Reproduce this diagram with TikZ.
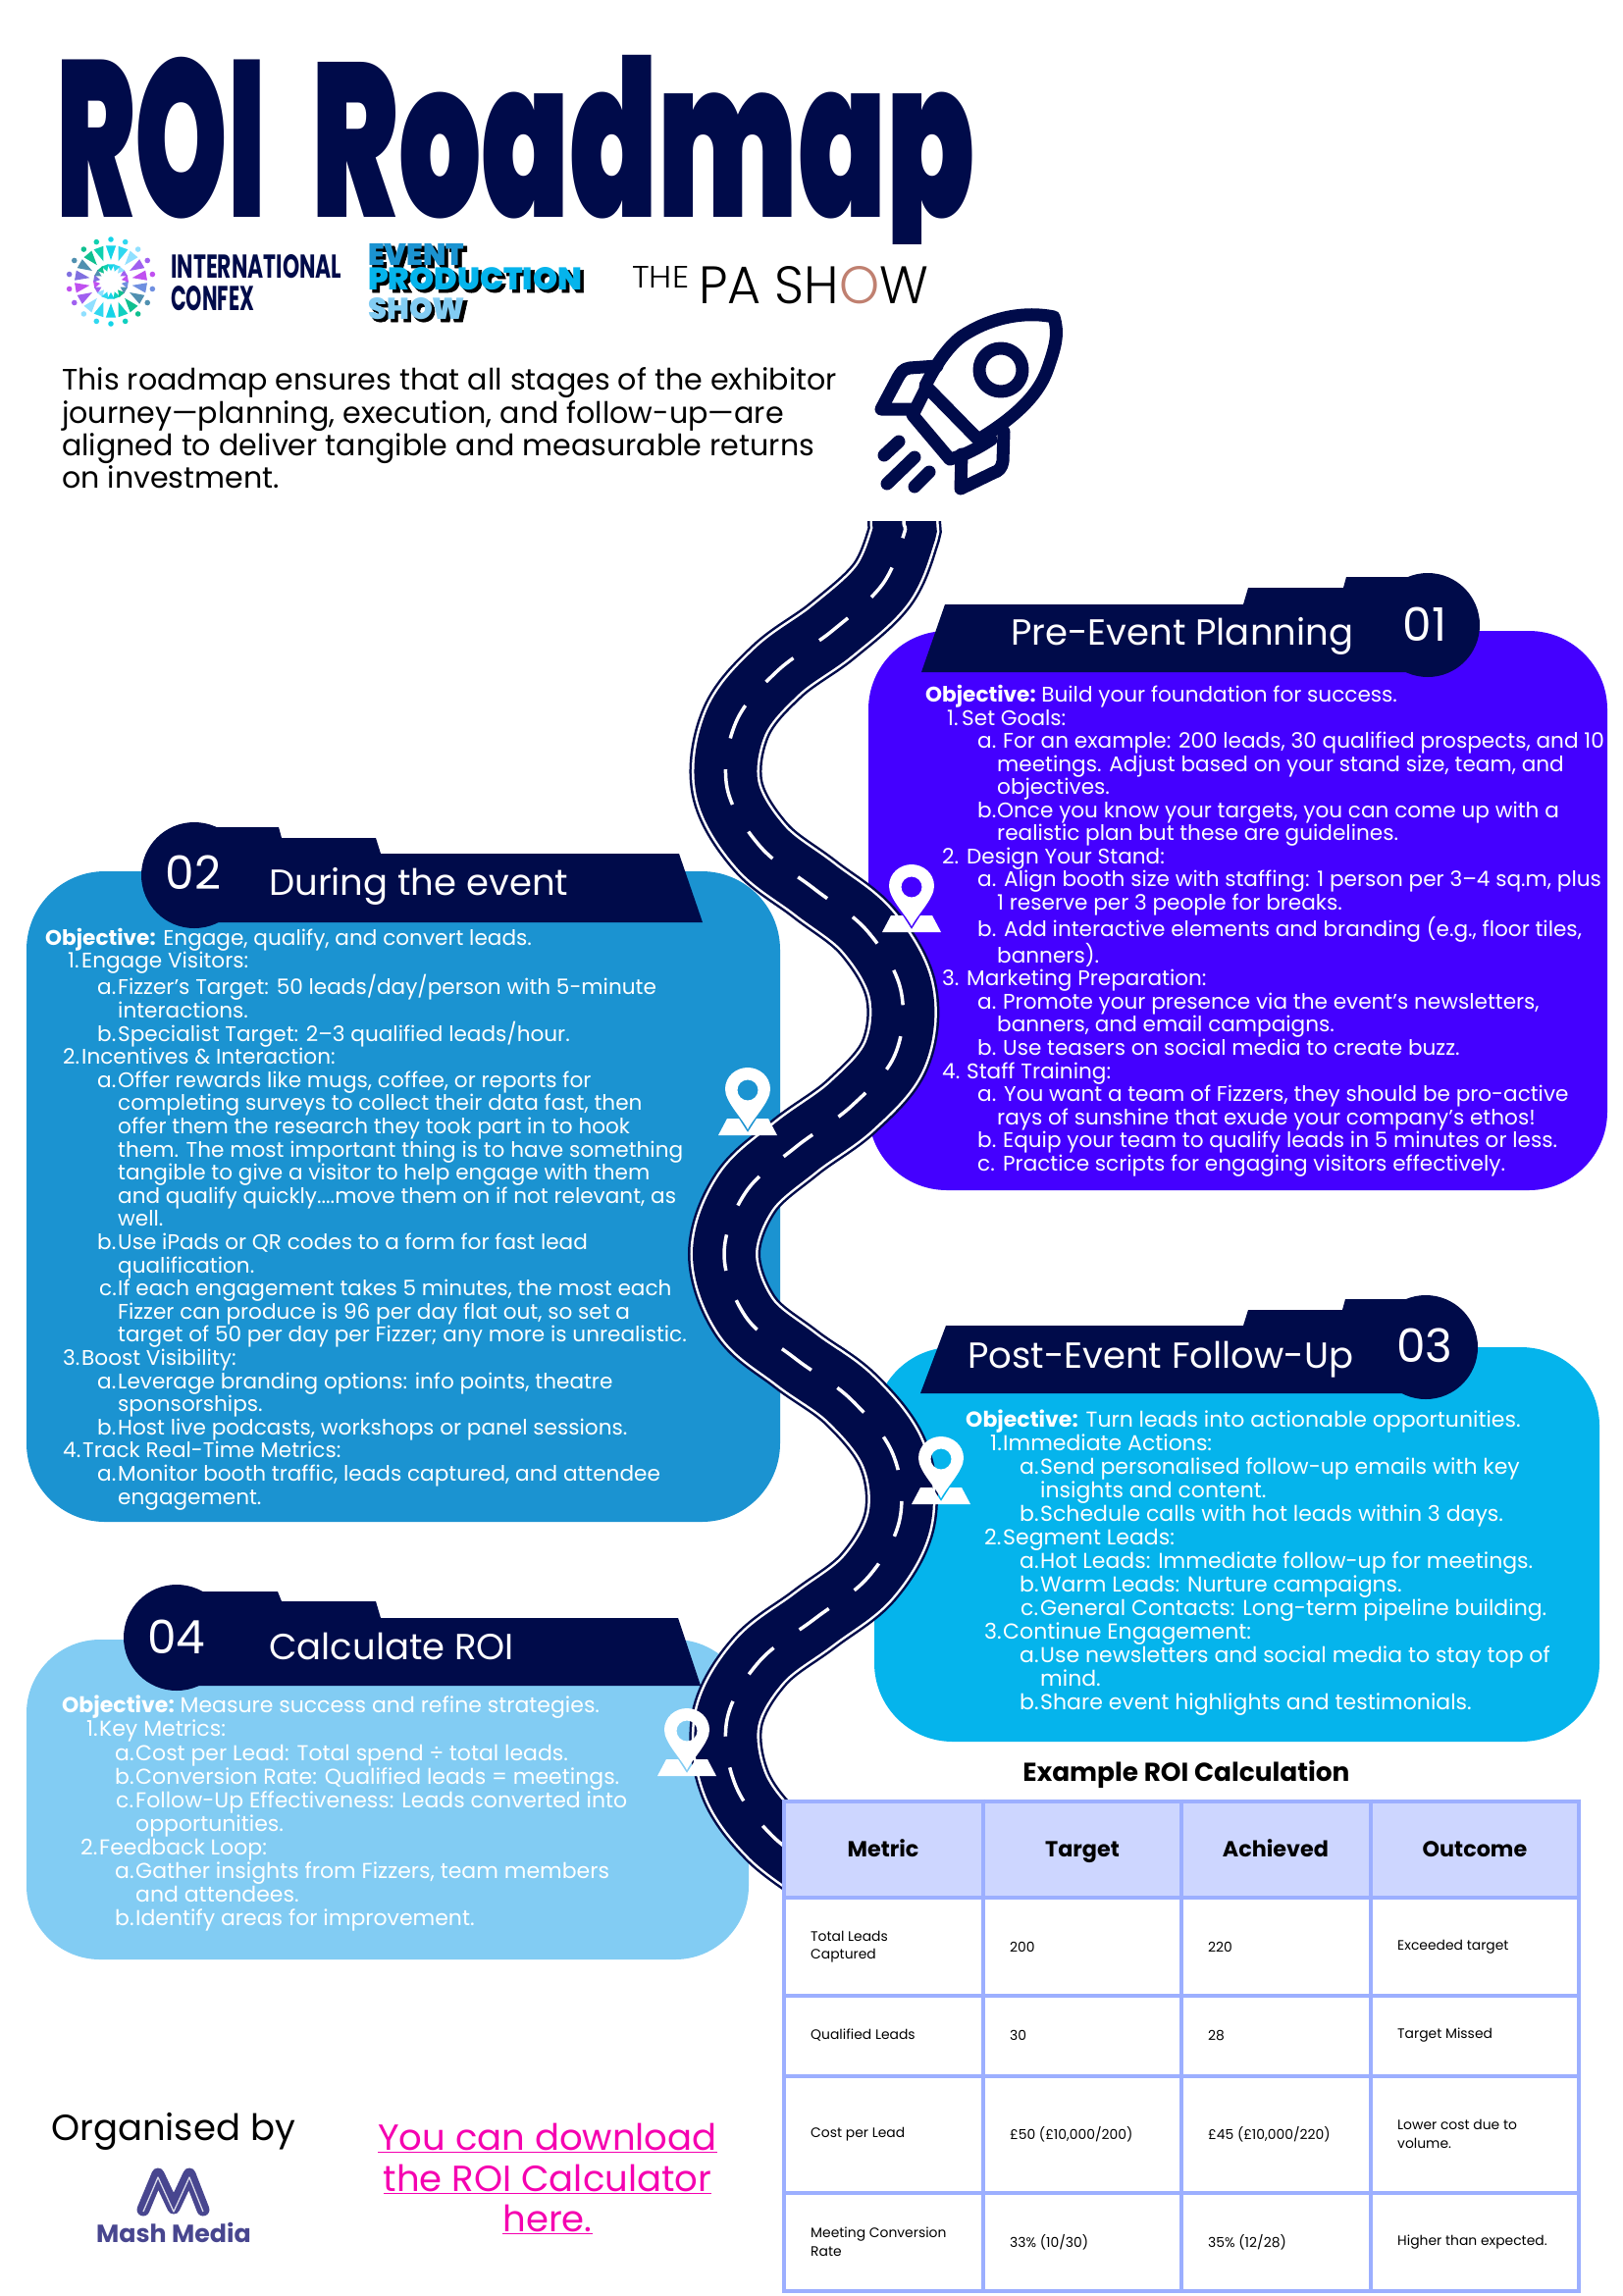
\documentclass[tikz,border=0pt]{standalone}
\usepackage{fontspec}
\usepackage{tikz}
\setmainfont{Poppins}
\newfontfamily\blackfont{Poppins Black}
\newfontfamily\shadowfont{Poppins Black}[FakeBold=2]
\newfontfamily\thinfont{Poppins Light}
\definecolor{roadnavy}{HTML}{000B4A}
\definecolor{planblue}{HTML}{4400FF}
\definecolor{duringblue}{HTML}{1B93D1}
\definecolor{postblue}{HTML}{05B4EC}
\definecolor{calcblue}{HTML}{82CCF3}
\definecolor{tableline}{HTML}{9CAFFF}
\definecolor{tablehead}{HTML}{CDD6FF}
\definecolor{linkpink}{HTML}{F500B0}
\definecolor{mashviolet}{HTML}{48468F}

\def\roadpath{plot[smooth,tension=0.6] coordinates {(921,490) (921,531) (921,545) (899,596) (848,643) (792,684) (750,736) (741,803) (775,863) (830,906) (884,949) (918,1009) (912,1075) (868,1127) (811,1169) (760,1215) (738,1278) (760,1342) (811,1385) (867,1426) (910,1482) (917,1548) (885,1607) (830,1650) (774,1693) (741,1752) (749,1818) (787,1871) (840,1910)}}

\newcommand{\bodyrow}[4]{\hspace*{#1pt}\makebox[\dimexpr#2pt-#1pt\relax][l]{#3}#4}
\newcommand{\pinmark}[2]{%
	\fill[white,even odd rule,shift={(#1,#2)}] (0,0) .. controls (-6,-12) and (-23,-28) .. (-23,-41) .. controls (-23,-54) and (-12,-63) .. (0,-63) .. controls (12,-63) and (23,-54) .. (23,-41) .. controls (23,-28) and (6,-12) .. (0,0) -- cycle (0,-40) circle (10.5);
	\fill[white,shift={(#1,#2)}] (-30,6) -- (-21,-11) -- (-9,-11) -- (0,3) -- (9,-11) -- (21,-11) -- (30,6) -- cycle;
}

\tikzset{
	bodytext/.style n args={2}{anchor=north west,align=left,text=white,font=\fontsize{#1}{#2}\selectfont},
	bannertext/.style={anchor=base west,text=white,font=\fontsize{37}{40}\selectfont},
	bannernum/.style={text=white,font=\fontsize{47}{50}\selectfont},
	cellhead/.style={anchor=base,font=\fontsize{22.3}{26}\selectfont\bfseries},
	celltext/.style={anchor=west,align=left,font=\fontsize{13.9}{18.6}\selectfont},
	linktext/.style={anchor=base,text=linkpink,font=\fontsize{37}{42}\selectfont},
	every node/.style={inner sep=0pt}
}

\begin{document}
\begin{tikzpicture}[x=1pt,y=-1pt]
	\useasboundingbox (0,0) rectangle (1654,2340);
	\fill[white] (0,0) rectangle (1654,2340);

	%title and logos
	\begin{scope}
		\clip (0,0) rectangle (1654,248);
		\node[anchor=base west,text=roadnavy] (titleroi) at (57,221) {\resizebox{214pt}{163pt}{\blackfont ROI}};
		\node[anchor=base west,text=roadnavy] (titleroad) at (317,221) {\resizebox{676pt}{165pt}{\blackfont Roadmap}};
	\end{scope}
	\foreach \ang/\petal in {90/14D4E8,110/10D0B0,130/10C090,150/5090B0,170/8070E0,190/C050F0,210/A060F0,230/90E0FF,250/30D8F0,270/14D4E8,290/10D0C0,310/10C090,330/5090B0,350/6F8FE0,10/C050F0,30/A060F0,50/90E0FF,70/30D8F0}{
		\definecolor{petal}{HTML}{\petal}
		\begin{scope}[shift={(113,287)}]
			\fill[petal] (-\ang:43) circle (2.8);
			\fill[petal] (-\ang+8:37) -- (-\ang-8:37) -- (-\ang:22) -- cycle;
			\fill[petal] (-\ang+12:18) -- (-\ang-12:18) -- (-\ang:11) -- cycle;
		\end{scope}
	}
	\node[anchor=base west,text=roadnavy] (confexa) at (174,283) {\resizebox{174pt}{24pt}{\bfseries INTERNATIONAL}};
	\node[anchor=base west,text=roadnavy] (confexb) at (174,316) {\resizebox{85pt}{25pt}{\bfseries CONFEX}};
	\node[anchor=base west,text=black] (epsashadow) at (378,273) {\resizebox{98pt}{22pt}{\shadowfont EVENT}};
	\node[anchor=base west,text=black] (epsbshadow) at (378,298) {\resizebox{218pt}{23pt}{\shadowfont PRODUCTION}};
	\node[anchor=base west,text=black] (epscshadow) at (378,328) {\resizebox{99pt}{22pt}{\shadowfont SHOW}};
	\node[anchor=base west,text=duringblue] (epsa) at (375,270) {\resizebox{98pt}{22pt}{\blackfont EVENT}};
	\node[anchor=base west,text=postblue] (epsb) at (375,295) {\resizebox{218pt}{23pt}{\blackfont PRODUCTION}};
	\node[anchor=base west,text=calcblue] (epsc) at (375,325) {\resizebox{99pt}{22pt}{\blackfont SHOW}};
	\node[anchor=base west] (pathe) at (644,293) {\resizebox{58pt}{22pt}{\thinfont THE}};
	\node[anchor=base west] (papa) at (712,309) {\resizebox{234pt}{38pt}{\thinfont PA SH\textcolor[HTML]{C08070}{O}W}};

	%intro text
	\node[anchor=north west,align=left,font=\fontsize{30.1}{33.4}\selectfont] (intro) at (63,374.5) {This roadmap ensures that all stages of the exhibitor\\journey—planning, execution, and follow-up—are\\aligned to deliver tangible and measurable returns\\on investment.};

	%rocket
	\begin{scope}[draw=roadnavy,line width=13,line join=round,line cap=round]
		\draw (1074,323) .. controls (1040,316) and (1005,326) .. (980,343) .. controls (965,354) and (952,375) .. (943,393) -- (997,448) .. controls (1030,428) and (1058,405) .. (1068,375) .. controls (1076,352) and (1079,340) .. (1074,323) -- cycle;
		\draw (943,397) -- (930,423) -- (968,468) .. controls (980,465) and (995,458) .. (1010,448);
		\draw (955,373) -- (927,375) .. controls (920,376) and (918,380) .. (915,385) -- (898,417) -- (930,417);
		\draw (1023,440) -- (1022,470) .. controls (1021,477) and (1018,480) .. (1012,482) -- (979,498) -- (980,463);
		\draw (901,464) -- (916,450);
		\draw (904,493) -- (932,466);
		\draw (932,496) -- (947,481);
		\draw (1020,377) circle (22);
	\end{scope}

	%the four panels
	\fill[planblue,rounded corners=80] (885,643) rectangle (1638,1213);
	\fill[duringblue,rounded corners=80] (27,888) rectangle (795,1551);
	\fill[postblue,rounded corners=80] (891,1373) rectangle (1630,1775);
	\fill[calcblue,rounded corners=75] (27,1671) rectangle (763,1997);

	%road
	\begin{scope}
		\clip (0,531) rectangle (1654,2340);
		\draw[roadnavy,line width=74] \roadpath;
		\draw[white,line width=69] \roadpath;
		\draw[roadnavy,line width=64] \roadpath;
		\draw[white,line width=3.5,dash pattern=on 37 off 32,dash phase=47] \roadpath;
	\end{scope}

	%banners
	\fill[roadnavy] (939,685) -- (963,616) -- (1267,616) -- (1272,599) -- (1369,599) -- (1372,588) -- (1455,588) -- (1455,685) -- cycle;
	\fill[roadnavy] (1455,637) circle (53);
	\fill[roadnavy] (220,843) -- (284,843) -- (287,854) -- (383,854) -- (388,870) -- (692,870) -- (716,940) -- (198,940) -- (198,843) -- cycle;
	\fill[roadnavy] (198,892) circle (54);
	\fill[roadnavy] (938,1420) -- (964,1351) -- (1267,1351) -- (1272,1335) -- (1368,1335) -- (1371,1324) -- (1453,1324) -- (1453,1420) -- cycle;
	\fill[roadnavy] (1453,1373) circle (53);
	\fill[roadnavy] (204,1622) -- (283,1622) -- (287,1632) -- (383,1632) -- (388,1649) -- (691,1649) -- (714,1718) -- (180,1718) -- (180,1622) -- cycle;
	\fill[roadnavy] (180,1669) circle (54);

	\node[bannertext] (plantitle) at (1030,657) {Pre-Event Planning};
	\node[bannernum] (plannum) at (1452,636) {01};
	\node[bannertext] (duringtitle) at (274,912) {During the event};
	\node[bannernum] (duringnum) at (197,889) {02};
	\node[bannertext] (posttitle) at (986,1394) {Post-Event Follow-Up};
	\node[bannernum] (postnum) at (1452,1371) {03};
	\node[bannertext] (calctitle) at (274,1691) {Calculate ROI};
	\node[bannernum] (calcnum) at (180,1668) {04};

	%map pins
	\pinmark{929}{944}
	\pinmark{762}{1151}
	\pinmark{959}{1527}
	\pinmark{700}{1804}

	%panel texts
	\node[bodytext={21.6}{23.55}] (planbody) at (943,698) {\textbf{Objective:}\hspace{-2pt} Build your foundation for success.\\
		\bodyrow{22}{37}{1.}{Set Goals:}\\
		\bodyrow{53}{79}{a.}{For an example: 200 leads, 30 qualified prospects, and 10}\\
		\bodyrow{73}{73}{}{meetings. Adjust based on your stand size, team, and}\\
		\bodyrow{73}{73}{}{objectives.}\\
		\bodyrow{53}{73}{b.}{Once you know your targets, you can come up with a}\\
		\bodyrow{73}{73}{}{realistic plan but these are guidelines.}\\
		\bodyrow{17}{42}{2.}{Design Your Stand:}\\
		\bodyrow{53}{80}{a.}{Align booth size with staffing: 1 person per 3–4 sq.m, plus}\\
		\bodyrow{73}{73}{}{1 reserve per 3 people for breaks.}\\
		\bodyrow{53}{80}{b.}{Add interactive elements and branding (e.g., floor tiles,}\\
		\bodyrow{73}{73}{}{banners).}\\
		\bodyrow{17}{42}{3.}{Marketing Preparation:}\\
		\bodyrow{53}{79}{a.}{Promote your presence via the event’s newsletters,}\\
		\bodyrow{73}{73}{}{banners, and email campaigns.}\\
		\bodyrow{53}{79}{b.}{Use teasers on social media to create buzz.}\\
		\bodyrow{17}{42}{4.}{Staff Training:}\\
		\bodyrow{53}{80}{a.}{You want a team of Fizzers, they should be pro-active}\\
		\bodyrow{73}{73}{}{rays of sunshine that exude your company’s ethos!}\\
		\bodyrow{53}{79}{b.}{Equip your team to qualify leads in 5 minutes or less.}\\
		\bodyrow{53}{79}{c.}{Practice scripts for engaging visitors effectively.}};

	\node[bodytext={21.6}{23.6}] (duringbody) at (46,945.5) {\textbf{Objective:} Engage, qualify, and convert leads.\\
		\bodyrow{23}{37}{1.}{Engage Visitors:}\\
		\bodyrow{53}{74}{a.}{Fizzer’s Target: 50 leads/day/person with 5-minute}\\
		\bodyrow{74}{74}{}{interactions.}\\
		\bodyrow{53}{74}{b.}{Specialist Target: 2–3 qualified leads/hour.}\\
		\bodyrow{18}{37}{2.}{Incentives \& Interaction:}\\
		\bodyrow{53}{74}{a.}{Offer rewards like mugs, coffee, or reports for}\\
		\bodyrow{74}{74}{}{completing surveys to collect their data fast, then}\\
		\bodyrow{74}{74}{}{offer them the research they took part in to hook}\\
		\bodyrow{74}{74}{}{them. The most important thing is to have something}\\
		\bodyrow{74}{74}{}{tangible to give a visitor to help engage with them}\\
		\bodyrow{74}{74}{}{and qualify quickly....move them on if not relevant, as}\\
		\bodyrow{74}{74}{}{well.}\\
		\bodyrow{53}{74}{b.}{Use iPads or QR codes to a form for fast lead}\\
		\bodyrow{74}{74}{}{qualification.}\\
		\bodyrow{55}{74}{c.}{If each engagement takes 5 minutes, the most each}\\
		\bodyrow{74}{74}{}{Fizzer can produce is 96 per day flat out, so set a}\\
		\bodyrow{74}{74}{}{target of 50 per day per Fizzer; any more is unrealistic.}\\
		\bodyrow{18}{37}{3.}{Boost Visibility:}\\
		\bodyrow{53}{74}{a.}{Leverage branding options: info points, theatre}\\
		\bodyrow{74}{74}{}{sponsorships.}\\
		\bodyrow{53}{74}{b.}{Host live podcasts, workshops or panel sessions.}\\
		\bodyrow{18}{38}{4.}{Track Real-Time Metrics:}\\
		\bodyrow{53}{74}{a.}{Monitor booth traffic, leads captured, and attendee}\\
		\bodyrow{74}{74}{}{engagement.}};

	\node[bodytext={22}{24}] (postbody) at (984,1436.5) {\textbf{Objective:} Turn leads into actionable opportunities.\\
		\bodyrow{25}{38}{1.}{Immediate Actions:}\\
		\bodyrow{55}{76}{a.}{Send personalised follow-up emails with key}\\
		\bodyrow{76}{76}{}{insights and content.}\\
		\bodyrow{55}{76}{b.}{Schedule calls with hot leads within 3 days.}\\
		\bodyrow{19}{38}{2.}{Segment Leads:}\\
		\bodyrow{55}{76}{a.}{Hot Leads: Immediate follow-up for meetings.}\\
		\bodyrow{55}{76}{b.}{Warm Leads: Nurture campaigns.}\\
		\bodyrow{56}{76}{c.}{General Contacts: Long-term pipeline building.}\\
		\bodyrow{19}{38}{3.}{Continue Engagement:}\\
		\bodyrow{55}{76}{a.}{Use newsletters and social media to stay top of}\\
		\bodyrow{76}{76}{}{mind.}\\
		\bodyrow{55}{76}{b.}{Share event highlights and testimonials.}};

	\node[bodytext={22}{24.1}] (calcbody) at (63,1728) {\textbf{Objective:}\hspace{-2pt} Measure success and refine strategies.\\
		\bodyrow{25}{38}{1.}{Key Metrics:}\\
		\bodyrow{54}{75}{a.}{Cost per Lead: Total spend ÷ total leads.}\\
		\bodyrow{54}{75}{b.}{Conversion Rate: Qualified leads = meetings.}\\
		\bodyrow{55}{75}{c.}{Follow-Up Effectiveness: Leads converted into}\\
		\bodyrow{75}{75}{}{opportunities.}\\
		\bodyrow{19}{38}{2.}{Feedback Loop:}\\
		\bodyrow{54}{75}{a.}{Gather insights from Fizzers, team members}\\
		\bodyrow{75}{75}{}{and attendees.}\\
		\bodyrow{54}{75}{b.}{Identify areas for improvement.}};

	%table
	\node[anchor=base,font=\fontsize{26.4}{30}\selectfont\bfseries] (tabletitle) at (1209,1815) {Example ROI Calculation};
	\fill[white] (799,1835.5) rectangle (1609,2335);
	\fill[tablehead] (799,1835.5) rectangle (1609,1934);
	\foreach \xpos in {799,1002,1204,1397,1609}
		\draw[tableline,line width=4] (\xpos,1833.5) -- (\xpos,2337);
	\foreach \ypos in {1835.5,1934,2034,2116,2235,2335}
		\draw[tableline,line width=4] (797,\ypos) -- (1611,\ypos);

	\node[cellhead] (headmetric) at (900,1892) {Metric};
	\node[cellhead] (headtarget) at (1103,1892) {Target};
	\node[cellhead] (headachieved) at (1300,1892) {Achieved};
	\node[cellhead] (headoutcome) at (1503,1892) {Outcome};

	\node[celltext] (leadsa) at (826,1984) {Total Leads\\Captured};
	\node[celltext] (leadsb) at (1029,1984) {200};
	\node[celltext] (leadsc) at (1231,1984) {220};
	\node[celltext] (leadsd) at (1424,1984) {Exceeded target};
	\node[celltext] (qualiha) at (826,2074) {Qualified Leads};
	\node[celltext] (qualihb) at (1029,2074) {30};
	\node[celltext] (qualihc) at (1231,2074) {28};
	\node[celltext] (qualihd) at (1424,2074) {Target Missed};
	\node[celltext] (costa) at (826,2175) {Cost per Lead};
	\node[celltext] (costb) at (1029,2175) {£50 (£10,000/200)};
	\node[celltext] (costc) at (1231,2175) {£45 (£10,000/220)};
	\node[celltext] (costd) at (1424,2175) {Lower cost due to\\volume.};
	\node[celltext] (meeta) at (826,2285) {Meeting Conversion\\Rate};
	\node[celltext] (meetb) at (1029,2285) {33\% (10/30)};
	\node[celltext] (meetc) at (1231,2285) {35\% (12/28)};
	\node[celltext] (meetd) at (1424,2285) {Higher than expected.};

	%footer
	\node[anchor=base west,font=\fontsize{37}{44}\selectfont] (organised) at (52,2181) {Organised by};
	\draw[mashviolet,line width=13,line cap=round,line join=round] (146,2252) -- (161,2216) -- (177,2250) -- (193,2216) -- (207,2252);
	\draw[white!80!mashviolet,line width=1.3,line join=round] (146,2254) -- (161,2219) -- (177,2254) -- (193,2219) -- (207,2254);
	\node[anchor=base,text=mashviolet,font=\fontsize{25.3}{30}\selectfont\bfseries] (mashname) at (177,2285) {Mash Media};
	\node[linktext] (linka) at (558,2191.5) {\underline{You can download}};
	\node[linktext] (linkb) at (558,2233.5) {\underline{the ROI Calculator}};
	\node[linktext] (linkc) at (558,2274.5) {\underline{here.}};
\end{tikzpicture}
\end{document}
